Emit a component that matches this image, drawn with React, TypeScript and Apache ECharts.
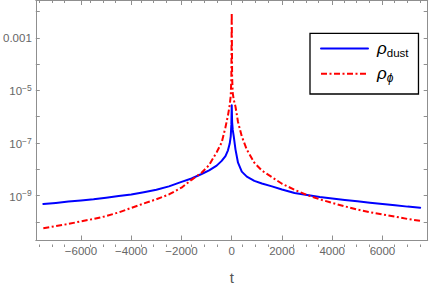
import React, { useEffect, useRef } from 'react';
import * as echarts from 'echarts';

// time values (shared by both series)
const tValues = [
  -7500, -7000, -6500, -6000, -5500, -5000, -4500, -4000, -3500, -3000, -2500, -2000, -1600, -1200, -900, -600,
  -400, -250, -150, -80, -40, -15,
  0,
  15, 40, 80, 150, 250, 400,
  600, 900, 1200, 1600, 2000, 2500, 3000, 3500, 4000, 4500, 5000, 5500, 6000, 6500, 7000, 7500,
];

// rho_dust
const rhoDust = [
  4.79e-10, 5.25e-10, 5.89e-10, 6.46e-10, 7.24e-10, 8.32e-10, 9.55e-10, 1.1e-9, 1.35e-9, 1.66e-9, 2.24e-9, 3.31e-9, 4.47e-9, 6.61e-9, 9.12e-9, 1.38e-8,
  2.09e-8, 3.16e-8, 5.25e-8, 9.55e-8, 1.78e-7, 5.01e-7,
  2.75e-6,
  6.31e-7, 3.16e-7, 1.78e-7, 5.62e-8, 1.78e-8, 8.13e-9,
  5.25e-9, 3.63e-9, 2.88e-9, 2.24e-9, 1.7e-9, 1.26e-9, 1.05e-9, 8.91e-10, 7.76e-10, 6.76e-10, 6.03e-10, 5.37e-10, 4.79e-10, 4.27e-10, 3.8e-10, 3.47e-10,
];

// rho_phi
const rhoPhi = [
  5.75e-11, 6.92e-11, 8.32e-11, 1.05e-10, 1.29e-10, 1.66e-10, 2.29e-10, 3.39e-10, 5.01e-10, 7.24e-10, 1.1e-9, 2.0e-9, 3.98e-9, 7.41e-9, 1.45e-8, 4.47e-8,
  1.05e-7, 3.98e-7, 1.12e-6, 2.82e-6, 6.31e-6, 3.16e-5,
  8.91e-3,
  3.16e-5, 7.94e-6, 4.47e-6, 2.4e-6, 6.31e-7, 1.78e-7,
  5.62e-8, 1.78e-8, 8.91e-9, 5.01e-9, 2.82e-9, 1.66e-9, 1.05e-9, 7.24e-10, 5.25e-10, 3.89e-10, 2.95e-10, 2.34e-10, 1.91e-10, 1.58e-10, 1.29e-10, 1.1e-10,
];

const xMajorTicks = [-6000, -4000, -2000, 0, 2000, 4000, 6000];
const xMinorTicks = [
  -7500, -7000, -6500, -5500, -5000, -4500, -3500, -3000, -2500, -1500, -1000, -500,
  500, 1000, 1500, 2500, 3000, 3500, 4500, 5000, 5500, 6500, 7000, 7500,
];
const yTicks = [1e-10, 1e-9, 1e-8, 1e-7, 1e-6, 1e-5, 1e-4, 1e-3, 1e-2];
const yLabelTicks = [1e-9, 1e-7, 1e-5, 1e-3];

const X_MIN = -7800;
const X_MAX = 7800;
const Y_MIN = 2.04e-11;
const Y_MAX = 2.65e-2;

const FONT = '"Liberation Sans", Arial, sans-serif';
const FRAME = '#8f8f8f';
const LABEL = '#666666';

export default function App() {
  const ref = useRef<HTMLDivElement>(null);

  useEffect(() => {
    if (!ref.current) return;
    const chart = echarts.init(ref.current, undefined, { renderer: 'svg' });

    const gridRect = { left: 31.7, right: 8.3, top: 0.5, bottom: 43 };
    const frameLine = { show: true, onZero: false, lineStyle: { color: FRAME, width: 1 } };
    const noLine = { show: false, onZero: false };

    const xFmt = (v: number) => (v < 0 ? '\u2212' + Math.abs(v) : String(v));
    const yFmt = (v: number) => {
      const e = Math.round(Math.log10(v));
      if (e === -3) return '0.001';
      return '{b|10}{s|\u2212' + -e + '}';
    };

    chart.setOption({
      animation: false,
      backgroundColor: '#ffffff',
      grid: [
        { ...gridRect },
        { ...gridRect },
      ],
      xAxis: [
        {
          type: 'value', gridIndex: 0, position: 'bottom', min: X_MIN, max: X_MAX,
          axisLine: frameLine,
          axisTick: { show: true, inside: true, length: 4.5, customValues: xMajorTicks, lineStyle: { color: FRAME } },
          axisLabel: {
            show: true, customValues: xMajorTicks, formatter: xFmt, margin: 5,
            color: LABEL, fontSize: 11.5, fontFamily: FONT,
          },
          splitLine: { show: false },
          name: 't', nameLocation: 'middle', nameGap: 30,
          nameTextStyle: { color: '#555555', fontSize: 15, fontFamily: FONT },
        },
        {
          type: 'value', gridIndex: 0, position: 'top', min: X_MIN, max: X_MAX,
          axisLine: frameLine,
          axisTick: { show: true, inside: true, length: 4.5, customValues: xMajorTicks, lineStyle: { color: FRAME } },
          axisLabel: { show: false },
          splitLine: { show: false },
        },
        {
          type: 'value', gridIndex: 1, position: 'bottom', min: X_MIN, max: X_MAX,
          axisLine: noLine,
          axisTick: { show: true, inside: true, length: 2.5, customValues: xMinorTicks, lineStyle: { color: FRAME } },
          axisLabel: { show: false },
          splitLine: { show: false },
        },
        {
          type: 'value', gridIndex: 1, position: 'top', min: X_MIN, max: X_MAX,
          axisLine: noLine,
          axisTick: { show: true, inside: true, length: 2.5, customValues: xMinorTicks, lineStyle: { color: FRAME } },
          axisLabel: { show: false },
          splitLine: { show: false },
        },
      ],
      yAxis: [
        {
          type: 'log', logBase: 10, gridIndex: 0, position: 'left', min: Y_MIN, max: Y_MAX,
          axisLine: frameLine,
          axisTick: { show: true, inside: true, length: 4, customValues: yTicks, lineStyle: { color: FRAME } },
          axisLabel: {
            show: true, customValues: yLabelTicks, formatter: yFmt, margin: 4,
            color: LABEL, fontSize: 11.5, fontFamily: FONT,
            rich: {
              b: { fontSize: 11.5, fontFamily: FONT, color: LABEL, lineHeight: 14, verticalAlign: 'bottom' },
              s: { fontSize: 8.5, fontFamily: FONT, color: LABEL, lineHeight: 14, verticalAlign: 'top', padding: [0, 0, 6, 0] },
            },
          },
          splitLine: { show: false },
          minorTick: { show: false },
        },
        {
          type: 'log', logBase: 10, gridIndex: 0, position: 'right', min: Y_MIN, max: Y_MAX,
          axisLine: frameLine,
          axisTick: { show: true, inside: true, length: 4, customValues: yTicks, lineStyle: { color: FRAME } },
          axisLabel: { show: false },
          splitLine: { show: false },
        },
        {
          type: 'log', logBase: 10, gridIndex: 1, position: 'left', min: Y_MIN, max: Y_MAX, show: false,
          axisLine: noLine,
          axisTick: { show: false },
          axisLabel: { show: false },
          splitLine: { show: false },
        },
      ],
      legend: {
        orient: 'vertical',
        left: 310,
        top: 33.3,
        padding: [6.7, 10, 10.3, 10],
        itemWidth: 47,
        itemHeight: 14,
        itemGap: 6.7,
        borderColor: '#000000',
        borderWidth: 1.3,
        backgroundColor: '#ffffff',
        itemStyle: { opacity: 0 },
        data: ['dust', 'phi'],
        formatter: (name: string) => (name === 'dust' ? '{r|\u03c1}{s|dust}' : '{r|\u03c1}{p|\u03d5}'),
        textStyle: {
          rich: {
            r: { fontSize: 17, fontStyle: 'italic', fontFamily: FONT, color: '#000', lineHeight: 20, padding: [0, 0, 0, 4] },
            s: { fontSize: 11.5, fontFamily: FONT, color: '#000', lineHeight: 12, verticalAlign: 'bottom' },
            p: { fontSize: 12, fontStyle: 'italic', fontFamily: FONT, color: '#000', lineHeight: 12, verticalAlign: 'bottom' },
          },
        },
      },
      series: [
        {
          name: 'dust',
          type: 'line',
          xAxisIndex: 0,
          yAxisIndex: 0,
          data: tValues.map((t, i) => [t, rhoDust[i]]),
          symbol: 'none',
          lineStyle: { color: '#0000ff', width: 2, join: 'round', cap: 'round' },
          itemStyle: { color: '#0000ff' },
          z: 3,
        },
        {
          name: 'phi',
          type: 'line',
          xAxisIndex: 0,
          yAxisIndex: 0,
          data: tValues.map((t, i) => [t, rhoPhi[i]]),
          symbol: 'none',
          lineStyle: { color: '#ff0000', width: 2, type: [6, 2.5, 2, 2.5], join: 'round' },
          itemStyle: { color: '#ff0000' },
          z: 4,
        },
      ],
    });

    return () => chart.dispose();
  }, []);

  return (
    <div
      ref={ref}
      style={{ position: 'fixed', left: 0, top: 0, width: 436, height: 290, background: '#fff' }}
    />
  );
}
